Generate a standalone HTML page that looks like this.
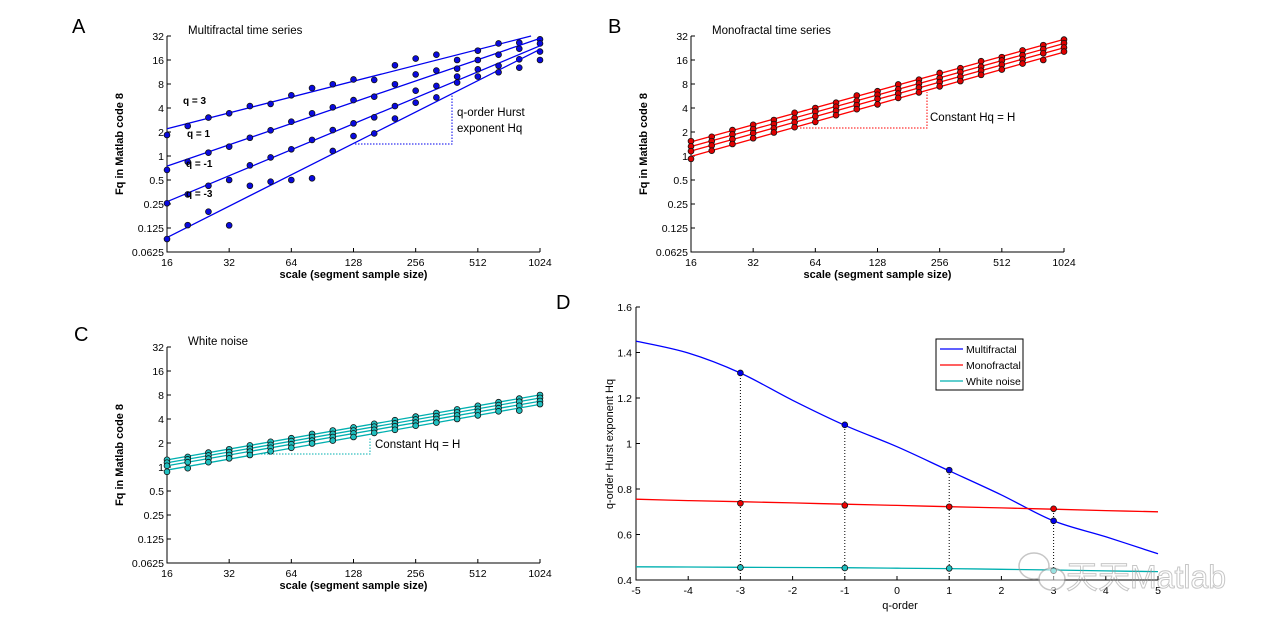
<!DOCTYPE html>
<html><head><meta charset="utf-8"><style>
body{margin:0;background:#fff;}
svg{display:block;font-family:"Liberation Sans",Arial,sans-serif;}
</style></head><body>
<svg id="fig" width="1280" height="631" viewBox="0 0 1280 631"></svg>
<script>
// ---------- data ----------
const scaleExp = [0,1,2,3,4,5,6,7,8,9,10,11,12,13,14,15,16,17,18]; // steps of 1/3 octave from 16
const xTickLabels = ["16","32","64","128","256","512","1024"];
const yTickLabels = ["0.0625","0.125","0.25","0.5","1","2","4","8","16","32"];
// log2(Fq) values, panel A (multifractal)
const multiQ3  = [0.875,1.25,1.6,1.78,2.08,2.17,2.53,2.83,2.99,3.19,3.17,3.78,4.06,4.22,4.0,4.39,4.69,4.72,4.86];
const multiQ1  = [-0.58,-0.24,0.14,0.39,0.76,1.07,1.43,1.78,2.03,2.33,2.47,2.99,3.40,3.56,3.64,4.0,4.22,4.47,4.69];
const multiQm1 = [-1.97,-1.60,-1.24,-1.0,-0.39,-0.06,0.28,0.67,1.08,1.36,1.61,2.08,2.72,2.92,3.31,3.61,3.76,4.03,4.35];
const multiQm3 = [-3.46,-2.88,-2.32,-2.89,-1.24,-1.07,-1.0,-0.93,0.21,0.83,0.94,1.56,2.22,2.44,3.06,3.31,3.49,3.68,4.0];
// panel B (monofractal)
const monoQ3  = [0.62,0.80,1.08,1.30,1.50,1.80,2.00,2.22,2.52,2.70,2.98,3.18,3.46,3.66,3.95,4.12,4.40,4.62,4.85];
const monoQ1  = [0.40,0.62,0.90,1.12,1.33,1.58,1.85,2.05,2.30,2.55,2.78,3.02,3.25,3.50,3.72,3.98,4.20,4.45,4.70];
const monoQm1 = [0.20,0.44,0.70,0.95,1.15,1.40,1.65,1.88,2.12,2.38,2.60,2.85,3.08,3.30,3.55,3.80,4.02,4.28,4.52];
const monoQm3 = [-0.12,0.22,0.50,0.74,0.98,1.20,1.42,1.70,1.95,2.15,2.42,2.65,2.90,3.12,3.38,3.60,3.85,4.00,4.35];
// panel C (white noise)
const noiseQ3  = [0.30,0.42,0.60,0.74,0.90,1.05,1.20,1.38,1.52,1.65,1.80,1.95,2.10,2.25,2.40,2.55,2.70,2.85,3.00];
const noiseQ1  = [0.18,0.32,0.48,0.62,0.76,0.92,1.08,1.25,1.38,1.52,1.68,1.82,1.98,2.12,2.28,2.42,2.58,2.72,2.88];
const noiseQm1 = [0.05,0.20,0.35,0.50,0.64,0.80,0.95,1.10,1.25,1.40,1.55,1.70,1.85,2.00,2.15,2.30,2.45,2.55,2.75];
const noiseQm3 = [-0.20,-0.05,0.20,0.36,0.50,0.65,0.80,0.98,1.10,1.25,1.42,1.55,1.72,1.85,2.00,2.15,2.32,2.35,2.62];
// panel D
const qOrder = [-5,-4,-3,-2,-1,0,1,2,3,4,5];
const hqMulti = [1.45,1.398,1.31,1.19,1.08,0.986,0.88,0.774,0.66,0.59,0.515];
const hqMono  = [0.755,0.749,0.744,0.739,0.733,0.728,0.722,0.717,0.711,0.705,0.70];
const hqNoise = [0.458,0.457,0.456,0.455,0.454,0.452,0.450,0.447,0.444,0.440,0.437];
const markQ = [-3,-1,1,3];
const markMulti = [1.31,1.082,0.883,0.66];
const markMono = [0.737,0.728,0.722,0.713];
const markNoise = [0.455,0.453,0.451,0.441];
const dXTicks = [-5,-4,-3,-2,-1,0,1,2,3,4,5];
const dYTicks = [0.4,0.6,0.8,1,1.2,1.4,1.6];
const dYTickLabels = ["0.4","0.6","0.8","1","1.2","1.4","1.6"];

// ---------- helpers ----------
const NS="http://www.w3.org/2000/svg";
const svg=document.getElementById('fig');
function mk(tag,attrs,parent){const e=document.createElementNS(NS,tag);for(const k in attrs)e.setAttribute(k,attrs[k]);(parent||svg).appendChild(e);return e;}
function txt(s,x,y,size,anchor,parent,extra){const t=mk('text',Object.assign({x:x,y:y,'font-size':size,'text-anchor':anchor||'start',fill:'#000'},extra||{}),parent);t.textContent=s;return t;}

function logPanel(cfg){
  const g=mk('g',{});
  
  
  const X=o=>cfg.x0+o*(cfg.x1-cfg.x0)/6;
  const Y=l=>cfg.yTop+(5-l)*(cfg.yBot-cfg.yTop)/9;
  const ax=mk('path',{d:`M${cfg.x0} ${cfg.yTop}V${cfg.yBot}H${cfg.x1}`,stroke:'#000',fill:'none','stroke-width':1},g);
  
  
  yTickLabels.forEach((s,i)=>{
    const y=Y(i-4);
    mk('line',{x1:cfg.x0,x2:cfg.x0+4,y1:y,y2:y,stroke:'#000'},g);
    const t=txt(s,cfg.x0-3,y+4,10.5,'end',g);
    
    
  });
  xTickLabels.forEach((s,i)=>{
    const x=X(i);
    mk('line',{x1:x,x2:x,y1:cfg.yBot,y2:cfg.yBot-4,stroke:'#000'},g);
    const t=txt(s,x,cfg.yBot+14,10.5,'middle',g);
    
    
  });
  const xl=txt('scale (segment sample size)',(cfg.x0+cfg.x1)/2,cfg.yBot+26,11,'middle',g,{'font-weight':'bold'});
  
  
  const yc=(cfg.yTop+cfg.yBot)/2, yx=cfg.x0-44;
  const yl=txt('Fq in Matlab code 8',yx,yc,11,'middle',g,{'font-weight':'bold',transform:`rotate(-90 ${yx} ${yc})`});
  
  
  const ti=txt(cfg.title,cfg.x0+21,cfg.yTop-2,11.5,'start',g);
  
  
  cfg.series.forEach((arr,si)=>{
    const n=arr.length; let sx=0,sy=0,sxx=0,sxy=0;
    arr.forEach((v,i)=>{const o=scaleExp[i]/3;sx+=o;sy+=v;sxx+=o*o;sxy+=o*v;});
    const b=(n*sxy-sx*sy)/(n*sxx-sx*sx), a=(sy-b*sx)/n;
    let l0=a, l1=a+b*6, o1=6;
    if(l1>5){o1=(5-a)/b;l1=5;}
    const ln=mk('line',{x1:X(0),y1:Y(l0),x2:X(o1),y2:Y(l1),stroke:cfg.color,'stroke-width':1.3},g);
    
    
    arr.forEach((v,i)=>{
      const c=mk('circle',{cx:X(scaleExp[i]/3),cy:Y(v),r:2.9,fill:cfg.mark,stroke:'#111','stroke-width':0.8},g);
      
      
    });
  });
  return {g,X,Y};
}

const A=logPanel({name:'panel-a',x0:167,x1:540,yTop:36,yBot:252,title:'Multifractal time series',color:'#0000ee',mark:'#0a0ae0',
  series:[multiQ3,multiQ1,multiQm1,multiQm3],qNames:['q3','q1','qm1','qm3']});
[['q = 3',183,104],['q = 1',187,137],['q = -1',186,167],['q = -3',186,197]].forEach(d=>{
  const t=txt(d[0],d[1],d[2],10,'start',A.g,{'font-weight':'bold'});
  
  
});
mk('path',{d:'M355 144H452V95',stroke:'#0000ee','stroke-dasharray':'1.5 1.5',fill:'none'},A.g);
txt('q-order Hurst',457,116,11.5,'start',A.g);
txt('exponent Hq',457,132,11.5,'start',A.g);

const B=logPanel({name:'panel-b',x0:691,x1:1064,yTop:36,yBot:252,title:'Monofractal time series',color:'#ff0000',mark:'#e00000',
  series:[monoQ3,monoQ1,monoQm1,monoQm3],qNames:['q3','q1','qm1','qm3']});
mk('path',{d:'M800 128H927V92',stroke:'#ff0000','stroke-dasharray':'1.5 1.5',fill:'none'},B.g);
txt('Constant Hq = H',930,121,11.5,'start',B.g);

const C=logPanel({name:'panel-c',x0:167,x1:540,yTop:347,yBot:563,title:'White noise',color:'#00b0b0',mark:'#20c0c0',
  series:[noiseQ3,noiseQ1,noiseQm1,noiseQm3],qNames:['q3','q1','qm1','qm3']});
mk('path',{d:'M258 454H370V437',stroke:'#00b0b0','stroke-dasharray':'1.5 1.5',fill:'none'},C.g);
txt('Constant Hq = H',375,448,11.5,'start',C.g);

[['A',72,33],['B',608,33],['C',74,341],['D',556,309]].forEach(d=>{
  const t=txt(d[0],d[1],d[2],20,'start');
  
  
});

// Panel D
const gD=mk('g',{});


const DX=q=>636+(q+5)*52.2;
const DY=h=>580-(h-0.4)*227.5;
const dax=mk('path',{d:`M636 307V580H1158`,stroke:'#000',fill:'none'},gD);


dXTicks.forEach(q=>{
  mk('line',{x1:DX(q),x2:DX(q),y1:580,y2:576,stroke:'#000'},gD);
  const t=txt(String(q),DX(q),594,10.5,'middle',gD);
  
  
});
dYTicks.forEach((h,i)=>{
  mk('line',{x1:636,x2:640,y1:DY(h),y2:DY(h),stroke:'#000'},gD);
  const t=txt(dYTickLabels[i],632,DY(h)+4,10.5,'end',gD);
  
  
});
const dxl=txt('q-order',900,609,11,'middle',gD);


const dyl=txt('q-order Hurst exponent Hq',613,444,11,'middle',gD,{transform:'rotate(-90 613 444)'});


markQ.forEach((q,i)=>{
  const top=Math.max(markMulti[i],markMono[i]);
  const l=mk('line',{x1:DX(q),x2:DX(q),y1:580,y2:DY(top),stroke:'#000','stroke-dasharray':'1 2'},gD);
  
  
});
function curve(arr,color,name){
  const pts=arr.map((h,i)=>[DX(qOrder[i]),DY(h)]);
  let d='M'+pts[0][0].toFixed(1)+' '+pts[0][1].toFixed(1);
  for(let i=0;i<pts.length-1;i++){
    const p0=pts[Math.max(0,i-1)],p1=pts[i],p2=pts[i+1],p3=pts[Math.min(pts.length-1,i+2)];
    const c1=[p1[0]+(p2[0]-p0[0])/6,p1[1]+(p2[1]-p0[1])/6];
    const c2=[p2[0]-(p3[0]-p1[0])/6,p2[1]-(p3[1]-p1[1])/6];
    d+=`C${c1[0].toFixed(1)} ${c1[1].toFixed(1)} ${c2[0].toFixed(1)} ${c2[1].toFixed(1)} ${p2[0].toFixed(1)} ${p2[1].toFixed(1)}`;
  }
  const p=mk('path',{d:d,stroke:color,fill:'none','stroke-width':1.3},gD);
  
  
}
curve(hqMulti,'#0000ff','multifractal-line');
curve(hqMono,'#ff0000','monofractal-line');
curve(hqNoise,'#00b0b0','white-noise-line');
function marks(arr,fill,name){
  arr.forEach((h,i)=>{
    const c=mk('circle',{cx:DX(markQ[i]),cy:DY(h),r:2.9,fill:fill,stroke:'#111','stroke-width':0.8},gD);
    
    
  });
}
marks(markMulti,'#0000ee','multifractal-point');
marks(markMono,'#ee0000','monofractal-point');
marks(markNoise,'#20c0c0','white-noise-point');
const lg=mk('g',{},gD);


mk('rect',{x:936,y:339,width:87,height:51,fill:'#fff',stroke:'#000'},lg);
[['Multifractal','#0000ff',349],['Monofractal','#ff0000',365],['White noise','#00b0b0',381]].forEach(d=>{
  const l=mk('line',{x1:940,x2:963,y1:d[2],y2:d[2],stroke:d[1],'stroke-width':1.3},lg);
  
  
  const t=txt(d[0],966,d[2]+4,10.5,'start',lg);
  
  
});
const wm=mk('g',{opacity:0.55},svg);


mk('ellipse',{cx:1034,cy:566,rx:15,ry:13,fill:'none',stroke:'#999','stroke-width':1.5},wm);
mk('ellipse',{cx:1052,cy:579,rx:13,ry:11,fill:'#fff',stroke:'#999','stroke-width':1.5},wm);
const wt=txt('天天Matlab',1066,588,32,'start',wm,{fill:'none',stroke:'#999','stroke-width':1,'font-family':'"Liberation Sans","Noto Sans CJK SC",sans-serif'});


</script>
</body></html>
